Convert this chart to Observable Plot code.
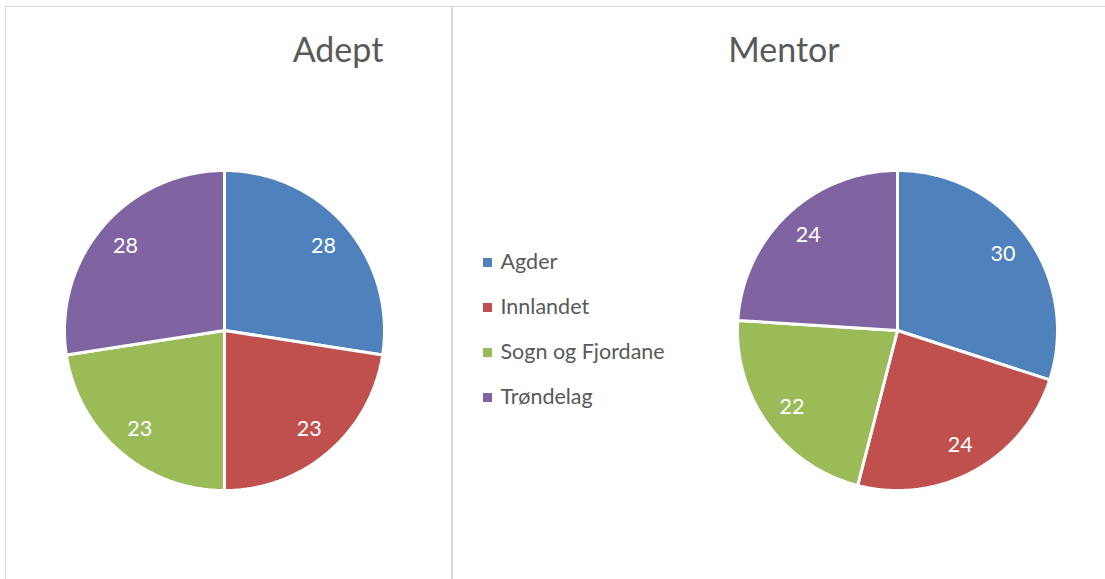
<!DOCTYPE html>
<html>
<head>
<meta charset="utf-8">
<script src="https://cdn.jsdelivr.net/npm/d3@7"></script>
<script src="https://cdn.jsdelivr.net/npm/@observablehq/plot@0.6"></script>
<style>
  html, body { margin: 0; padding: 0; background: #fff; }
  #wrap { position: relative; width: 1105px; height: 579px; overflow: hidden; font-family: Lato, "Noto Sans", sans-serif; }
  #chart { position: absolute; left: 0; top: 0; }
  .frame { position: absolute; left: 5px; top: 6px; width: 1200px; height: 700px; border: 1.5px solid #d9d9d9; box-sizing: border-box; }
  .divider { position: absolute; left: 451px; top: 6px; width: 1.5px; height: 600px; background: #d9d9d9; }
</style>
</head>
<body>
<div id="wrap">
  <div id="chart"></div>
  <div class="frame"></div>
  <div class="divider"></div>
</div>
<script>
// ---- data ----
const regions = ["Agder", "Innlandet", "Sogn og Fjordane", "Trøndelag"];
const colors = ["#4f81bd", "#c0504d", "#9bbb59", "#8064a2"];
const adeptValues = [28, 23, 23, 28];
const mentorValues = [30, 24, 22, 24];
const chartTitles = ["Adept", "Mentor"];

// ---- layout (pixels) ----
const W = 1105, H = 579;
const pies = [
  {title: chartTitles[0], values: adeptValues, cx: 224, cy: 330, r: 160, tx: 337.5, ty: 51},
  {title: chartTitles[1], values: mentorValues, cx: 897, cy: 330, r: 160, tx: 783.5, ty: 51}
];
const labelRadius = 0.815;
const legend = {x: 487, y0: 262, dy: 45, textX: 500};

// ---- geometry derived from the values ----
const slicePts = [];
const labels = [];
const titles = [];
pies.forEach((p, pi) => {
  const arcs = d3.pie().sort(null).startAngle(0).endAngle(2 * Math.PI)(p.values);
  arcs.forEach((a, i) => {
    const key = p.title + "|" + regions[i];
    const pts = [{x: p.cx, y: p.cy}];
    const n = Math.max(2, Math.ceil((a.endAngle - a.startAngle) / (Math.PI / 180)));
    for (let k = 0; k <= n; k++) {
      const t = a.startAngle + (a.endAngle - a.startAngle) * k / n;
      pts.push({x: p.cx + p.r * Math.sin(t), y: p.cy - p.r * Math.cos(t)});
    }
    pts.push({x: p.cx, y: p.cy});
    pts.forEach(pt => slicePts.push({...pt, key, region: regions[i]}));
    const mid = (a.startAngle + a.endAngle) / 2;
    labels.push({
      x: p.cx + p.r * labelRadius * Math.sin(mid),
      y: p.cy - p.r * labelRadius * Math.cos(mid),
      text: String(p.values[i])
    });
  });
  titles.push({x: p.tx, y: p.ty, text: p.title});
});
const legendItems = regions.map((r, i) => ({region: r, x: legend.x, tx: legend.textX, y: legend.y0 + i * legend.dy}));

const chart = Plot.plot({
  width: W,
  height: H,
  margin: 0,
  style: {background: "transparent", fontFamily: "Lato, 'Noto Sans', sans-serif"},
  x: {domain: [0, W], range: [0, W], axis: null},
  y: {domain: [0, H], range: [0, H], axis: null},
  color: {domain: regions, range: colors},
  marks: [
    Plot.line(slicePts, {x: "x", y: "y", z: "key", fill: "region", stroke: "white", strokeWidth: 3, strokeLinejoin: "miter", curve: "linear"}),
    Plot.text(labels, {x: "x", y: "y", text: "text", fill: "white", fontSize: 21.5}),
    Plot.text(titles, {x: "x", y: "y", text: "text", fill: "#595959", fontSize: 34}),
    Plot.dot(legendItems, {x: "x", y: "y", fill: "region", symbol: "square", r: 5.1}),
    Plot.text(legendItems, {x: "tx", y: "y", text: "region", fill: "#595959", fontSize: 21.5, textAnchor: "start"})
  ]
});
document.getElementById("chart").appendChild(chart);
</script>
</body>
</html>
